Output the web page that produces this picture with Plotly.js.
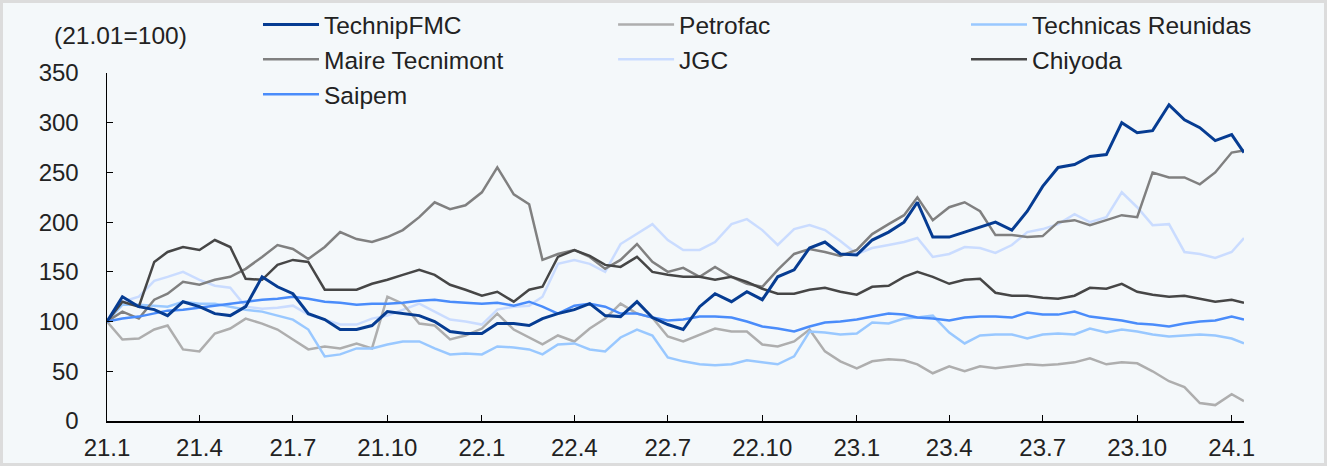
<!DOCTYPE html>
<html>
<head>
<meta charset="utf-8">
<script src="https://cdn.plot.ly/plotly-3.0.1.min.js"></script>
<style>
html, body { margin: 0; padding: 0; background: #fff; }
#frame { width: 1327px; height: 466px; box-sizing: border-box; border: 3px solid #DCDCDC; background: #F4F8FA; }
#chart { width: 1321px; height: 460px; }
</style>
</head>
<body>
<div id="frame"><div id="chart"></div></div>
<script>
// index, 21.01 = 100 ; one point on the 1st and 16th of each month
var dates = [];
for (var yr = 2021; yr <= 2023; yr++) {
	for (var m = 1; m <= 12; m++) {
		var mm = (m < 10 ? '0' : '') + m;
		dates.push(yr + '-' + mm + '-01', yr + '-' + mm + '-16');
	}
}
dates.push('2024-01-01', '2024-01-13');

var technipFMC = [100,125,115,112,106,120,115,108,106,115,145,135,128,108,102,92,92,96,110,
	108,106,100,90,88,88,98,98,96,103,108,112,118,106,105,120,104,97,
	92,115,128,120,130,122,145,152,174,180,168,167,182,190,200,220,185,185,190,
	195,200,192,211,236,255,258,266,268,300,290,292,318,303,295,282,288,270];
var petrofac = [100,82,83,92,96,72,70,88,93,103,98,92,82,72,75,73,78,73,125,
	118,98,96,82,86,93,108,92,84,77,86,80,93,103,118,108,104,85,
	80,87,93,90,90,77,75,80,92,70,60,53,60,62,61,57,48,55,50,
	55,53,55,57,56,57,59,63,57,59,58,50,40,34,18,16,27,20];
var technicas = [100,117,117,116,115,120,118,118,115,112,110,106,102,92,65,67,73,73,77,
	80,80,73,67,68,67,75,74,72,67,77,78,72,70,84,92,86,64,
	60,57,56,57,61,59,57,65,90,89,87,88,99,98,103,104,106,89,78,
	86,87,87,83,87,88,87,93,89,92,90,87,85,86,87,86,83,78];
var maire = [100,110,103,122,128,140,137,142,145,153,165,177,173,163,175,190,183,180,185,
	192,205,220,213,217,230,255,228,218,162,168,172,165,153,162,178,160,150,
	154,145,155,145,138,135,152,168,173,170,166,172,188,198,207,225,202,215,220,
	211,187,187,185,186,200,202,197,202,207,205,250,245,245,238,250,270,272];
var jgc = [100,120,125,141,145,150,142,136,134,115,113,114,116,107,102,97,97,103,106,
	112,118,110,102,100,97,112,115,116,125,158,162,158,150,178,188,198,182,
	172,172,180,198,203,192,177,193,197,192,181,168,174,177,180,184,165,168,175,
	174,169,177,190,193,198,208,200,205,230,215,197,198,170,168,164,170,184];
var chiyoda = [100,120,115,160,170,175,172,182,175,143,142,157,162,160,132,132,132,138,142,
	147,152,147,137,132,126,130,120,132,135,165,172,166,157,155,165,150,147,
	145,145,142,145,140,133,128,128,132,134,130,127,135,136,145,150,145,138,142,
	143,129,126,126,124,123,126,134,133,138,130,127,125,126,123,120,122,119];
var saipem = [100,103,105,108,111,112,114,116,118,120,122,123,125,123,120,119,117,118,118,
	119,121,122,120,119,118,119,116,120,115,108,116,118,115,108,108,104,101,
	102,105,105,104,100,95,93,90,95,99,100,102,105,108,107,104,103,101,104,
	105,105,104,109,107,107,110,105,103,101,98,97,95,98,100,101,105,102];

var tickDates = ['2021-01-01','2021-04-01','2021-07-01','2021-10-01','2022-01-01','2022-04-01',
	'2022-07-01','2022-10-01','2023-01-01','2023-04-01','2023-07-01','2023-10-01','2024-01-01'];
var tickLabels = ['21.1','21.4','21.7','21.10','22.1','22.4','22.7','22.10','23.1','23.4','23.7','23.10','24.1'];

// drawn back to front; legend column + rank keep the 3-column legend order
var series = [
	{ name: 'JGC', y: jgc, color: '#CADCFF', leg: 'legend2', rank: 2 },
	{ name: 'Petrofac', y: petrofac, color: '#AEAEAE', leg: 'legend2', rank: 1 },
	{ name: 'Technicas Reunidas', y: technicas, color: '#99C8FF', leg: 'legend3', rank: 1 },
	{ name: 'Maire Tecnimont', y: maire, color: '#808080', leg: 'legend', rank: 2 },
	{ name: 'Chiyoda', y: chiyoda, color: '#464646', leg: 'legend3', rank: 2 },
	{ name: 'Saipem', y: saipem, color: '#4A8CFA', leg: 'legend', rank: 3 },
	{ name: 'TechnipFMC', y: technipFMC, color: '#063C92', leg: 'legend', rank: 1 }
];

var fontFam = '"Liberation Sans", Arial, sans-serif';
var data = [];
for (var i = 0; i < series.length; i++) {
	data.push({
		x : dates,
		y : series[i].y,
		type : 'scatter',
		mode : 'lines',
		name : series[i].name,
		legend : series[i].leg,
		legendrank : series[i].rank,
		line : { color : series[i].color, width : series[i].name == 'TechnipFMC' ? 3 : 2.5 },
		hoverinfo : 'x+y+name'
	});
}

function legendAt(xPos) {
	return {
		orientation : 'v',
		x : xPos,
		xanchor : 'left',
		y : 1.204,
		yanchor : 'top',
		itemwidth : 56,
		traceorder : 'normal',
		bgcolor : 'rgba(0,0,0,0)',
		borderwidth : 0,
		font : { family : fontFam, size : 24.5, color : '#222' }
	};
}

var layout = {
	width : 1321,
	height : 460,
	margin : { l : 104, r : 80, t : 70, b : 42, autoexpand : false },
	paper_bgcolor : 'rgba(0,0,0,0)',
	plot_bgcolor : 'rgba(0,0,0,0)',
	font : { family : fontFam, size : 24, color : '#222' },
	showlegend : true,
	legend : legendAt(0.1328),
	legend2 : legendAt(0.4451),
	legend3 : legendAt(0.7555),
	xaxis : {
		type : 'date',
		range : ['2021-01-01', '2024-01-13'],
		tickvals : tickDates,
		ticktext : tickLabels,
		ticks : 'inside',
		ticklen : 6,
		tickcolor : '#000',
		showline : true,
		linecolor : '#000',
		linewidth : 1.5,
		showgrid : false,
		zeroline : false,
		ticklabelstandoff : 5,
		tickfont : { family : fontFam, size : 24, color : '#222' }
	},
	yaxis : {
		range : [0, 350],
		tick0 : 0,
		dtick : 50,
		ticks : 'inside',
		ticklen : 6,
		tickcolor : '#000',
		showline : true,
		linecolor : '#000',
		linewidth : 1.5,
		showgrid : false,
		zeroline : false,
		ticklabelstandoff : 22,
		tickfont : { family : fontFam, size : 24, color : '#222' }
	},
	annotations : [{
		xref : 'paper', yref : 'paper',
		x : 0.0123, y : 1.109,
		xanchor : 'center', yanchor : 'middle',
		text : '(21.01=100)',
		showarrow : false,
		font : { family : fontFam, size : 24.5, color : '#222' }
	}]
};

Plotly.newPlot('chart', data, layout, { displayModeBar : false, staticPlot : true });
</script>
</body>
</html>
